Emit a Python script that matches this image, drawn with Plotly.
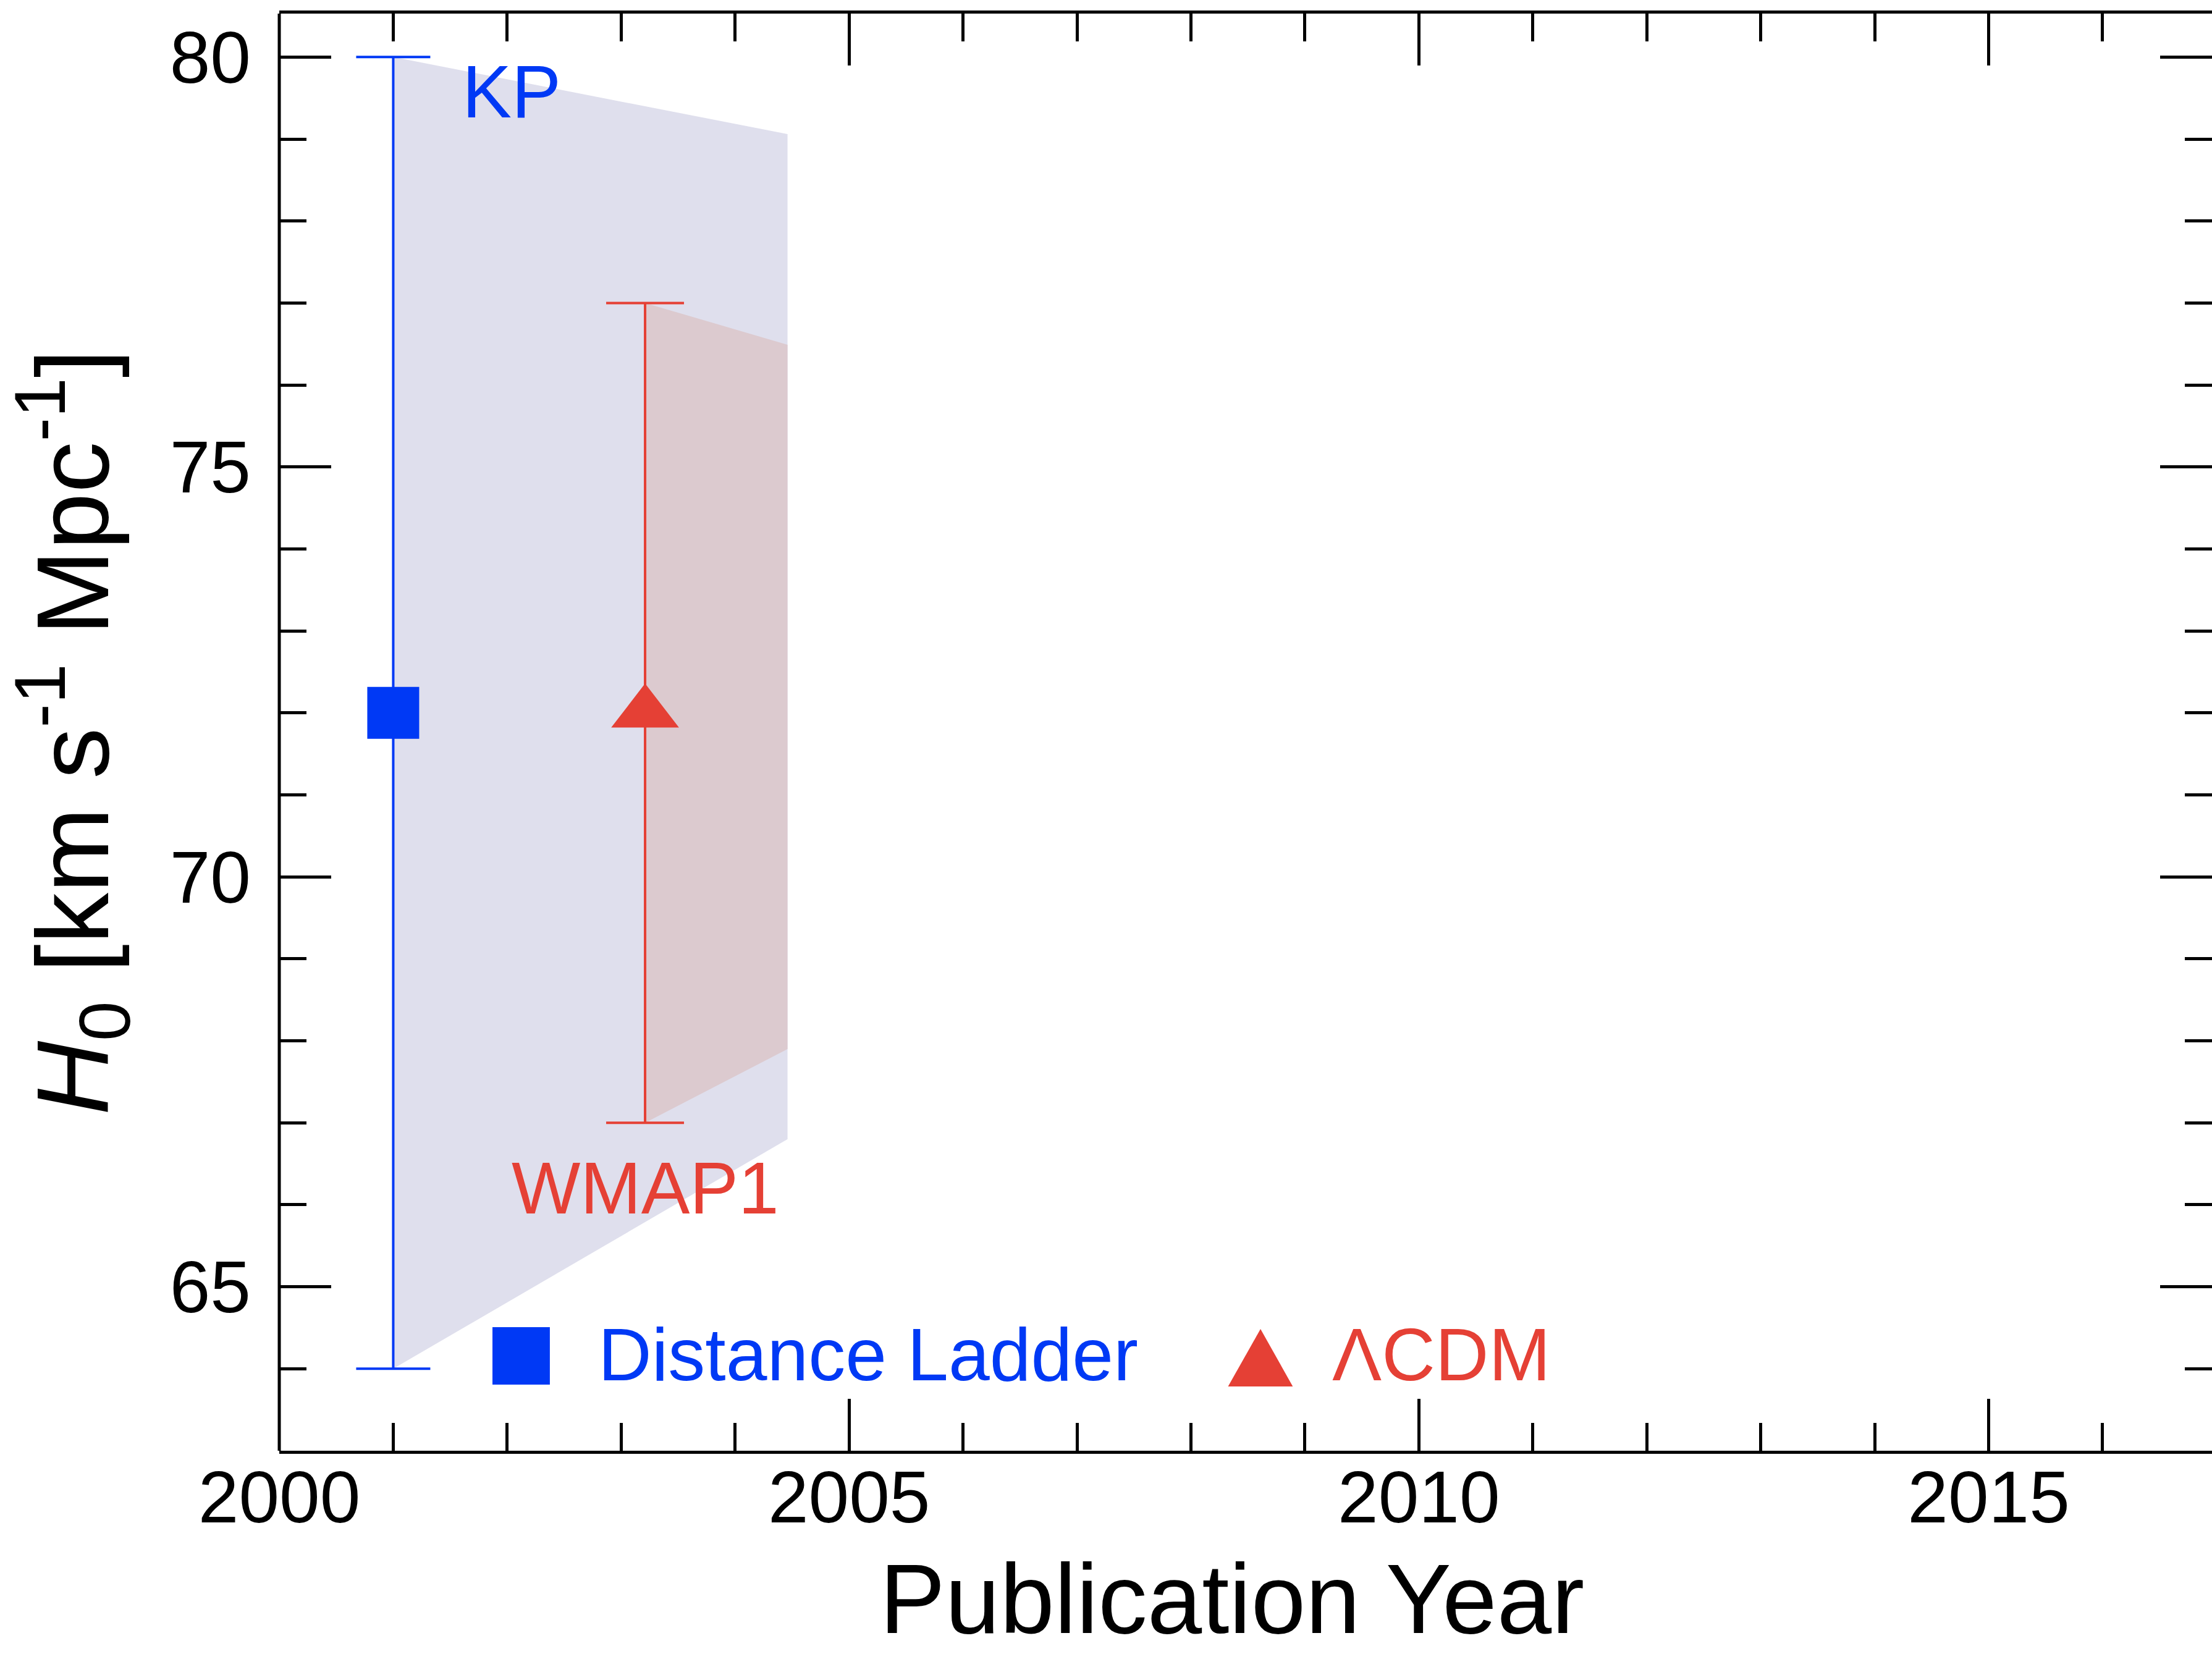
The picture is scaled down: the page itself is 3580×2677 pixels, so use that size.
import plotly.graph_objects as go

# ---------------- data ----------------
series_names = ["Distance Ladder", "ΛCDM"]
point_labels = ["KP", "WMAP1"]
pub_year = [2001.0, 2003.21]
h0_value = [72.0, 72.0]
h0_error = [8.0, 5.0]

# uncertainty bands (year, upper, lower)
dl_band_year = [2001.0, 2004.46]
dl_band_upper = [80.0, 79.06]
dl_band_lower = [64.0, 66.8]
lcdm_band_year = [2003.21, 2004.46]
lcdm_band_upper = [77.0, 76.49]
lcdm_band_lower = [67.0, 67.9]

x_tick_vals = [2000, 2005, 2010, 2015]
x_tick_text = ["2000", "2005", "2010", "2015"]
y_tick_vals = [65, 70, 75, 80]
y_tick_text = ["65", "70", "75", "80"]

# ---------------- style ----------------
BLUE = "#0039f5"
RED = "#e54035"
BLUE_FILL = "#dfdfed"
RED_FILL = "#dccacf"
FONT = "Liberation Sans, Arial, Helvetica, sans-serif"

fig = go.Figure()

# bands
fig.add_trace(go.Scatter(
    x=dl_band_year + dl_band_year[::-1],
    y=dl_band_upper + dl_band_lower[::-1],
    fill="toself", fillcolor=BLUE_FILL, mode="lines",
    line=dict(width=0, color=BLUE_FILL), hoverinfo="skip", showlegend=False))
fig.add_trace(go.Scatter(
    x=lcdm_band_year + lcdm_band_year[::-1],
    y=lcdm_band_upper + lcdm_band_lower[::-1],
    fill="toself", fillcolor=RED_FILL, mode="lines",
    line=dict(width=0, color=RED_FILL), hoverinfo="skip", showlegend=False))

# points with error bars
fig.add_trace(go.Scatter(
    x=[pub_year[0]], y=[h0_value[0]], mode="markers", name=series_names[0],
    marker=dict(symbol="square", size=84, color=BLUE, line=dict(width=0)),
    error_y=dict(type="data", array=[h0_error[0]], color=BLUE, thickness=4, width=60),
    showlegend=False))
fig.add_trace(go.Scatter(
    x=[pub_year[1]], y=[h0_value[1]], mode="markers", name=series_names[1],
    marker=dict(symbol="triangle-up", size=95, color=RED, line=dict(width=0)),
    error_y=dict(type="data", array=[h0_error[1]], color=RED, thickness=4, width=63),
    showlegend=False))

annotations = [
    dict(x=2002.04, y=79.58, xref="x", yref="y", text=point_labels[0], showarrow=False,
         font=dict(family=FONT, size=120, color=BLUE), xanchor="center", yanchor="middle"),
    dict(x=pub_year[1], y=66.2, xref="x", yref="y", text=point_labels[1], showarrow=False,
         font=dict(family=FONT, size=118, color=RED), xanchor="center", yanchor="middle"),
    # legend texts
    dict(x=0.1643, y=0.0672, xref="paper", yref="paper", text=series_names[0], showarrow=False,
         font=dict(family=FONT, size=120, color=BLUE), xanchor="left", yanchor="middle"),
    dict(x=0.544, y=0.0672, xref="paper", yref="paper", text=series_names[1], showarrow=False,
         font=dict(family=FONT, size=120, color=RED), xanchor="left", yanchor="middle"),
]

shapes = [
    # left frame line
    dict(type="line", xref="paper", yref="paper", x0=0, x1=0, y0=0, y1=1,
         line=dict(color="black", width=5)),
    # legend keys
    dict(type="rect", xref="paper", yref="paper", x0=0.1103, x1=0.1400, y0=0.0460, y1=0.0860,
         fillcolor=BLUE, line=dict(width=0)),
    dict(type="path", xref="paper", yref="paper",
         path="M 0.4909 0.0447 L 0.5244 0.0447 L 0.5077 0.0847 Z",
         fillcolor=RED, line=dict(width=0)),
]

tick_common = dict(ticks="inside", tickcolor="black", tickwidth=4.5, showgrid=False,
                   zeroline=False, mirror="ticks", automargin=False,
                   tickfont=dict(family=FONT, size=118, color="black"))

fig.update_layout(
    width=3580, height=2677,
    margin=dict(l=452, r=0, t=22, b=329, pad=0, autoexpand=False),
    paper_bgcolor="white", plot_bgcolor="white",
    showlegend=False,
    annotations=annotations, shapes=shapes,
    xaxis=dict(range=[2000, 2016.96], tickmode="array", tickvals=x_tick_vals, ticktext=x_tick_text,
               ticklen=84, showline=True, linecolor="black", linewidth=5,
               ticklabelstandoff=-31,
               minor=dict(dtick=1, tick0=2000, ticks="inside", ticklen=45, tickwidth=4.5,
                          tickcolor="black", showgrid=False),
               title=dict(text="Publication Year&nbsp;", font=dict(family=FONT, size=159, color="black"),
                          standoff=98),
               **tick_common),
    yaxis=dict(range=[63, 80.53], tickmode="array", tickvals=y_tick_vals, ticktext=y_tick_text,
               ticklen=84, showline=False,
               ticklabelstandoff=45,
               minor=dict(dtick=1, tick0=63, ticks="inside", ticklen=44, tickwidth=4.5,
                          tickcolor="black", showgrid=False),
               title=dict(text="<i>H</i><sub>0</sub> [km s<sup>-1</sup> Mpc<sup>-1</sup>]",
                          font=dict(family=FONT, size=166, color="black"), standoff=70),
               **tick_common),
)

fig.write_html("out.html")
